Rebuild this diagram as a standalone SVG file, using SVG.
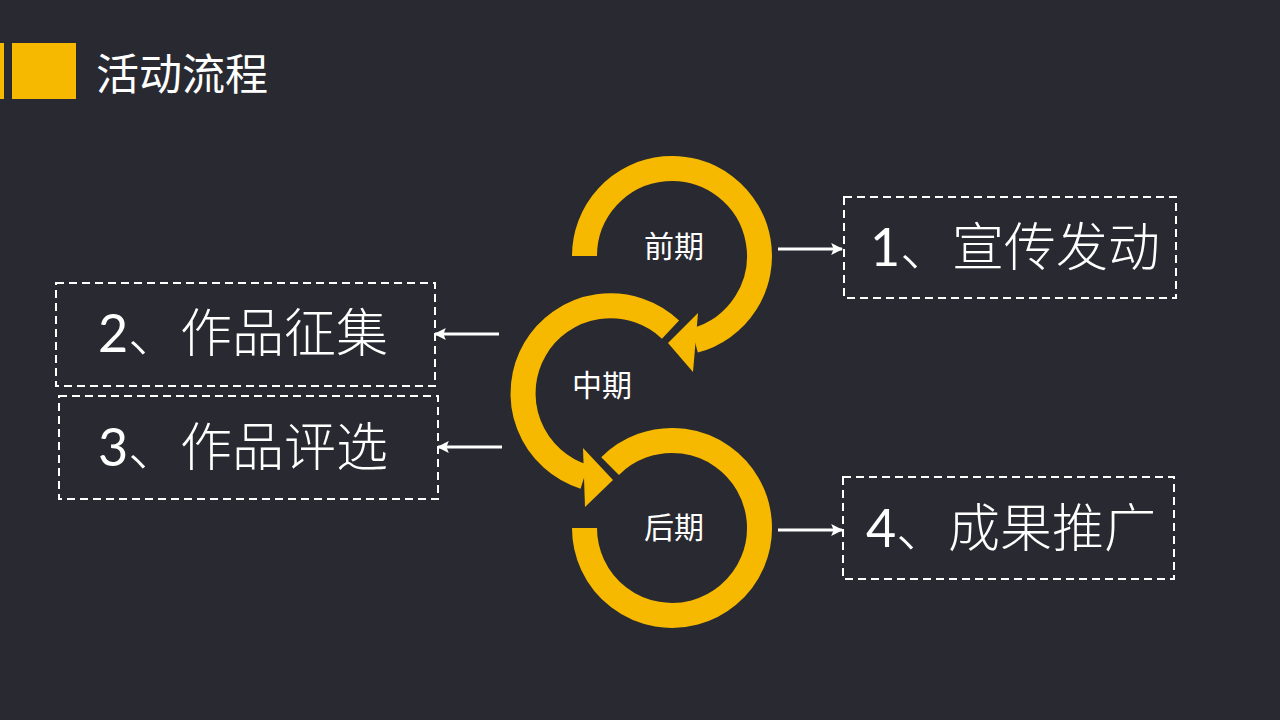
<svg xmlns="http://www.w3.org/2000/svg" width="1280" height="720" viewBox="0 0 1280 720">
  <style>
    .ring { fill: none; stroke: #F7B900; stroke-width: 25; }
    .head { fill: #F7B900; }
    .box { fill: none; stroke: #FFFFFF; stroke-width: 2; stroke-dasharray: 8 5; }
    .big { font-family: Lato, "Noto Sans CJK SC", sans-serif; font-size: 52px; fill: #FFFFFF; text-anchor: middle; }
    .lt { font-family: "Noto Sans CJK SC", sans-serif; font-weight: 300; }
    .lbl { font-family: "Noto Sans CJK SC", sans-serif; font-size: 30px; fill: #FFFFFF; text-anchor: middle; }
    .title { font-family: "Noto Sans CJK SC", sans-serif; font-size: 43px; fill: #FFFFFF; }
    .conn { stroke: #FFFFFF; stroke-width: 3; fill: none; }
  </style>
  <defs>
    <marker id="arr" viewBox="0 0 10 10" refX="9" refY="5" markerWidth="4" markerHeight="4" markerUnits="strokeWidth" orient="auto">
      <path d="M0,0 L10,5 L0,10 L2,5 Z" fill="#FFFFFF"/>
    </marker>
  </defs>
  <rect width="1280" height="720" fill="#292A31"/>

  <g id="header">
    <rect x="0" y="43" width="4" height="56" fill="#F7B900"/>
    <rect x="12" y="43" width="64" height="56" fill="#F7B900"/>
    <text class="title" x="96" y="90">活动流程</text>
  </g>

  <g id="stage-early">
    <path class="ring" d="M584.5,256 A87.5,87.5 0 1 1 694.6,340.5"/>
    <polygon class="head" points="698,313 668,343 693,372"/>
    <text class="lbl" x="674" y="257">前期</text>
  </g>

  <g id="stage-mid">
    <path class="ring" d="M670.5,329.6 A87.5,87.5 0 1 0 584.3,476.8"/>
    <polygon class="head" points="583,448 613,480 585,507"/>
    <text class="lbl" x="602" y="396">中期</text>
  </g>

  <g id="stage-late">
    <path class="ring" d="M610.1,466.1 A87.5,87.5 0 1 1 584.5,528"/>
    <text class="lbl" x="674" y="538">后期</text>
  </g>

  <g id="step1">
    <rect class="box" x="844" y="197" width="332" height="101"/>
    <text class="big" x="1015" y="266">1<tspan class="lt">、宣传发动</tspan></text>
  </g>
  <g id="step2">
    <rect class="box" x="56" y="283" width="379" height="103"/>
    <text class="big" x="243" y="352">2<tspan class="lt">、作品征集</tspan></text>
  </g>
  <g id="step3">
    <rect class="box" x="59" y="396" width="379" height="103"/>
    <text class="big" x="243" y="466">3<tspan class="lt">、作品评选</tspan></text>
  </g>
  <g id="step4">
    <rect class="box" x="843" y="477" width="331" height="102"/>
    <text class="big" x="1011" y="547">4<tspan class="lt">、成果推广</tspan></text>
  </g>

  <g id="connectors">
    <line class="conn" x1="778" y1="249" x2="842" y2="249" marker-end="url(#arr)"/>
    <line class="conn" x1="499" y1="334" x2="435" y2="334" marker-end="url(#arr)"/>
    <line class="conn" x1="502" y1="447" x2="438" y2="447" marker-end="url(#arr)"/>
    <line class="conn" x1="778" y1="530" x2="842" y2="530" marker-end="url(#arr)"/>
  </g>
</svg>
